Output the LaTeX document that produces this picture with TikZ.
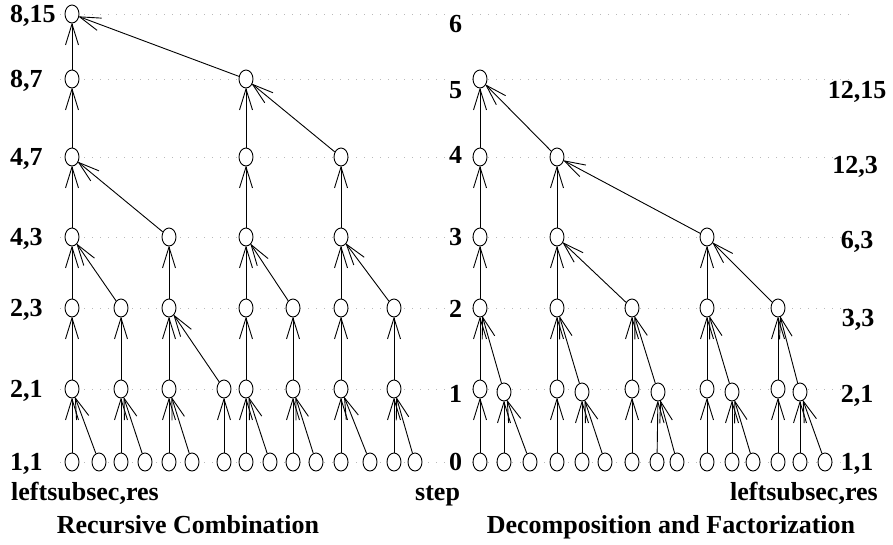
\documentclass[tikz,border=0pt]{standalone}
\usepackage{fontspec}
\setmainfont{Liberation Serif}
\usetikzlibrary{arrows.meta,shapes.geometric}

\begin{document}
\begin{tikzpicture}[
  x=1pt, y=-1pt,
  font=\fontsize{26}{30}\selectfont\bfseries,
  vtx/.style={draw,ellipse,line width=0.9pt,fill=white,inner sep=0pt,minimum width=14pt,minimum height=18pt},
  edge/.style={-{Straight Barb[length=21pt,width=13pt,line width=0.9pt]},line width=0.9pt,shorten >=-1pt},
  level/.style={gray!55,line width=1pt,dash pattern=on 1pt off 7pt},
  lbl/.style={inner sep=0pt,anchor=base west},
  val/.style={inner sep=0pt,anchor=base},
]
  \useasboundingbox (0,0) rectangle (893,544);

  % Dotted guide lines, one per level, behind the nodes.
  \foreach \y in {14,79,157,237,308,389,462} {
    \draw[level] (60,\y) -- (447,\y);
    \draw[level] (472,\y) -- (850,\y);
  }

  % Recursive Combination: leaves and inner nodes.
  \node[vtx] (la1) at (72,462) {};  \node[vtx] (la2) at (99,462) {};  \node[vtx] (la3) at (121,462) {};
  \node[vtx] (la4) at (145,462) {}; \node[vtx] (la5) at (169,462) {}; \node[vtx] (la6) at (192,462) {};
  \node[vtx] (la7) at (224,462) {}; \node[vtx] (la8) at (246,462) {}; \node[vtx] (la9) at (270,462) {};
  \node[vtx] (la10) at (293,462) {}; \node[vtx] (la11) at (316,462) {}; \node[vtx] (la12) at (341,462) {};
  \node[vtx] (la13) at (370,462) {}; \node[vtx] (la14) at (394,462) {}; \node[vtx] (la15) at (415,462) {};

  \node[vtx] (lb1) at (72,389) {};  \node[vtx] (lb2) at (121,389) {}; \node[vtx] (lb3) at (169,389) {};
  \node[vtx] (lb4) at (224,389) {}; \node[vtx] (lb5) at (246,389) {}; \node[vtx] (lb6) at (293,389) {};
  \node[vtx] (lb7) at (341,389) {}; \node[vtx] (lb8) at (394,389) {};

  \node[vtx] (lc1) at (72,308) {};  \node[vtx] (lc2) at (121,308) {}; \node[vtx] (lc3) at (169,308) {};
  \node[vtx] (lc4) at (246,308) {}; \node[vtx] (lc5) at (293,308) {}; \node[vtx] (lc6) at (341,308) {};
  \node[vtx] (lc7) at (394,308) {};

  \node[vtx] (ld1) at (72,237) {};  \node[vtx] (ld2) at (169,237) {};
  \node[vtx] (ld3) at (246,237) {}; \node[vtx] (ld4) at (341,237) {};

  \node[vtx] (le1) at (72,157) {};  \node[vtx] (le2) at (246,157) {}; \node[vtx] (le3) at (341,157) {};
  \node[vtx] (lf1) at (72,79) {};   \node[vtx] (lf2) at (246,79) {};
  \node[vtx] (lg1) at (72,14) {};

  \foreach \s/\t in {la1/lb1,la2/lb1,la3/lb2,la4/lb2,la5/lb3,la6/lb3,la7/lb4,la8/lb5,la9/lb5,
      la10/lb6,la11/lb6,la12/lb7,la13/lb7,la14/lb8,la15/lb8,
      lb1/lc1,lb2/lc2,lb3/lc3,lb4/lc3,lb5/lc4,lb6/lc5,lb7/lc6,lb8/lc7,
      lc1/ld1,lc2/ld1,lc3/ld2,lc4/ld3,lc5/ld3,lc6/ld4,lc7/ld4,
      ld1/le1,ld2/le1,ld3/le2,ld4/le3,
      le1/lf1,le2/lf2,le3/lf2,
      lf1/lg1,lf2/lg1}
    \draw[edge] (\s) -- (\t);

  % Decomposition and Factorization.
  \node[vtx] (ra1) at (480,462) {};  \node[vtx] (ra2) at (504,462) {};  \node[vtx] (ra3) at (530,462) {};
  \node[vtx] (ra4) at (557,462) {};  \node[vtx] (ra5) at (582,462) {};  \node[vtx] (ra6) at (605,462) {};
  \node[vtx] (ra7) at (632,462) {};  \node[vtx] (ra8) at (657,462) {};  \node[vtx] (ra9) at (677,462) {};
  \node[vtx] (ra10) at (707,462) {}; \node[vtx] (ra11) at (732,462) {}; \node[vtx] (ra12) at (753,462) {};
  \node[vtx] (ra13) at (778,462) {}; \node[vtx] (ra14) at (800,462) {}; \node[vtx] (ra15) at (825,462) {};

  \node[vtx] (rb1) at (480,389) {};  \node[vtx] (rb2) at (504,392) {};
  \node[vtx] (rb3) at (557,389) {};  \node[vtx] (rb4) at (582,392) {};
  \node[vtx] (rb5) at (632,389) {};  \node[vtx] (rb6) at (658,392) {};
  \node[vtx] (rb7) at (707,389) {};  \node[vtx] (rb8) at (732,392) {};
  \node[vtx] (rb9) at (778,389) {};  \node[vtx] (rb10) at (800,392) {};

  \node[vtx] (rc1) at (480,308) {}; \node[vtx] (rc2) at (557,308) {}; \node[vtx] (rc3) at (632,308) {};
  \node[vtx] (rc4) at (707,308) {}; \node[vtx] (rc5) at (778,308) {};

  \node[vtx] (rd1) at (480,237) {}; \node[vtx] (rd2) at (557,237) {}; \node[vtx] (rd3) at (707,237) {};
  \node[vtx] (re1) at (480,157) {}; \node[vtx] (re2) at (557,157) {};
  \node[vtx] (rf1) at (480,79) {};

  \foreach \s/\t in {ra1/rb1,ra2/rb2,ra3/rb2,ra4/rb3,ra5/rb4,ra6/rb4,ra7/rb5,ra8/rb6,ra9/rb6,
      ra10/rb7,ra11/rb8,ra12/rb8,ra13/rb9,ra14/rb10,ra15/rb10,
      rb1/rc1,rb2/rc1,rb3/rc2,rb4/rc2,rb5/rc3,rb6/rc3,rb7/rc4,rb8/rc4,rb9/rc5,rb10/rc5,
      rc1/rd1,rc2/rd2,rc3/rd2,rc4/rd3,rc5/rd3,
      rd1/re1,rd2/re2,rd3/re2,
      re1/rf1,re2/rf1}
    \draw[edge] (\s) -- (\t);

  % Level labels.
  \node[lbl] (l815) at (10,22) {8,15};
  \node[lbl] (l87) at (10,87) {8,7};
  \node[lbl] (l47) at (10,165) {4,7};
  \node[lbl] (l43) at (10,245) {4,3};
  \node[lbl] (l23) at (10,316) {2,3};
  \node[lbl] (l21) at (10,397) {2,1};
  \node[lbl] (l11) at (10,470) {1,1};

  \node[lbl] (s6) at (449,32) {6};
  \node[lbl] (s5) at (449,98) {5};
  \node[lbl] (s4) at (449,163) {4};
  \node[lbl] (s3) at (449,245) {3};
  \node[lbl] (s2) at (449,317) {2};
  \node[lbl] (s1) at (449,402) {1};
  \node[lbl] (s0) at (449,470) {0};

  \node[val] (v1215) at (857,98) {12,15};
  \node[val] (v123) at (855,173) {12,3};
  \node[val] (v63) at (857,248) {6,3};
  \node[val] (v33) at (858,326) {3,3};
  \node[val] (v21) at (857,402) {2,1};
  \node[val] (v11) at (857,470) {1,1};

  % Axis names and titles.
  \node[lbl] (ltree) at (11,500) {leftsubsec,res};
  \node[lbl] (lstep) at (415,500) {step};
  \node[lbl] (rtree) at (730,500) {leftsubsec,res};
  \node[val] (tl) at (188,533) {Recursive Combination};
  \node[val] (tr) at (671,533) {Decomposition and Factorization};
\end{tikzpicture}
\end{document}
